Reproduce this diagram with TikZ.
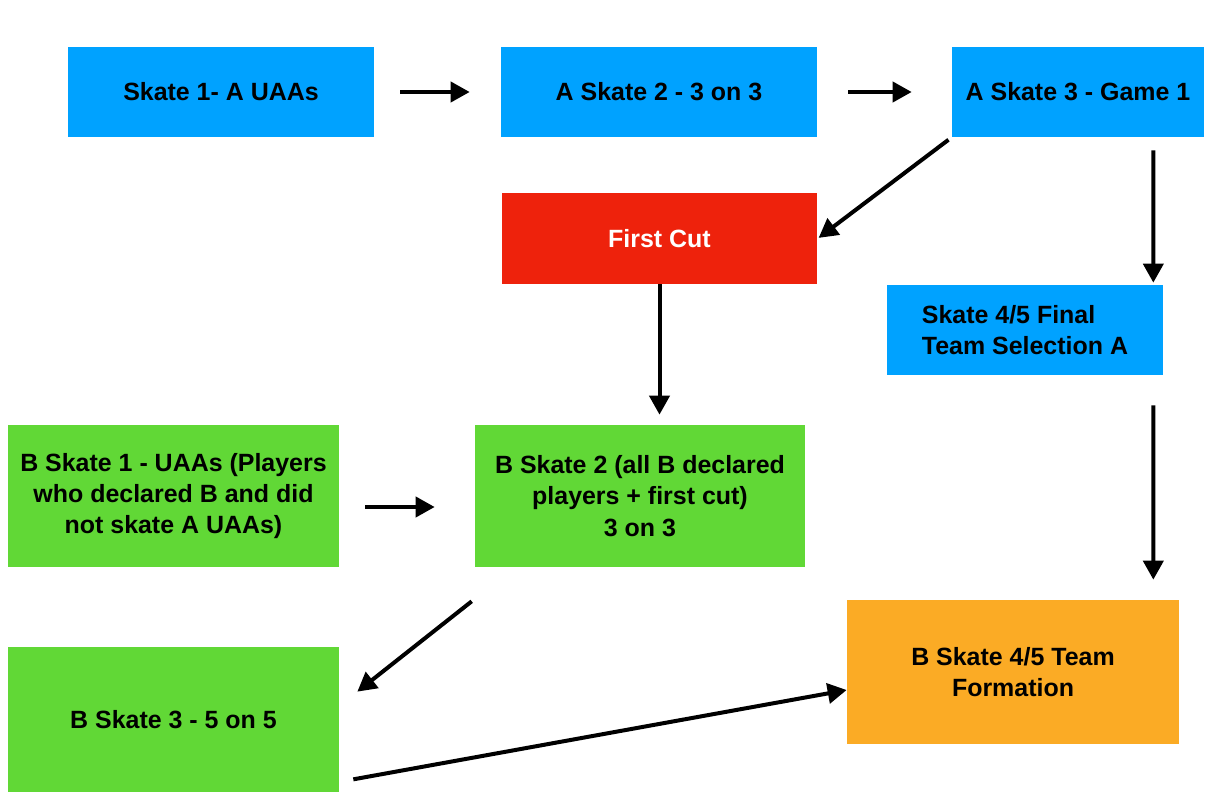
\documentclass[tikz,border=0pt]{standalone}
\usepackage{fontspec}
\setmainfont{Liberation Sans}
\usetikzlibrary{arrows.meta,calc}

\definecolor{skateblue}{HTML}{00A2FF}
\definecolor{cutred}{HTML}{EE220C}
\definecolor{skategreen}{HTML}{61D836}
\definecolor{teamorange}{HTML}{FBAB25}

\tikzset{
    skatebox/.style={rectangle, inner sep=0pt, align=center,
        font=\fontsize{14.2pt}{17.9pt}\selectfont\bfseries},
    arr/.style={-{Triangle[length=0.38cm,width=0.40cm]}, line width=0.08cm}
}

\begin{document}
\begin{tikzpicture}[x=0.02cm,y=-0.02cm]
    \useasboundingbox (0,0) rectangle (1214,811);

    % A stream
    \node[skatebox,fill=skateblue,minimum width=6.12cm,minimum height=1.8cm] (s1a) at (221,92) {Skate 1- A UAAs};
    \node[skatebox,fill=skateblue,minimum width=6.32cm,minimum height=1.8cm] (s2a) at (659,92) {A Skate 2 - 3 on 3};
    \node[skatebox,fill=skateblue,minimum width=5.04cm,minimum height=1.8cm] (s3a) at (1078,92) {A Skate 3 - Game 1};
    \node[skatebox,fill=cutred,text=white,minimum width=6.32cm,minimum height=1.82cm] (cut) at (659.5,238.5) {First Cut};
    \node[skatebox,fill=skateblue,align=left,minimum width=5.52cm,minimum height=1.8cm] (s45a) at (1025,330) {Skate 4/5 Final\\Team Selection A};

    % B stream
    \node[skatebox,fill=skategreen,minimum width=6.62cm,minimum height=2.84cm] (s1b) at (173.5,496) {B Skate 1 - UAAs (Players\\who declared B and did\\not skate A UAAs)};
    \node[skatebox,fill=skategreen,minimum width=6.6cm,minimum height=2.84cm] (s2b) at (640,496) {B Skate 2 (all B declared\\players + first cut)\\3 on 3};
    \node[skatebox,fill=skategreen,minimum width=6.62cm,minimum height=2.9cm] (s3b) at (173.5,719.5) {B Skate 3 - 5 on 5};
    \node[skatebox,fill=teamorange,minimum width=6.64cm,minimum height=2.88cm] (s45b) at (1013,672) {B Skate 4/5 Team\\Formation};

    % arrows
    \draw[arr,shorten <=0.52cm,shorten >=0.62cm] (s1a) -- (s2a);
    \draw[arr,shorten <=0.62cm,shorten >=0.8cm] (s2a) -- (s3a);
    \draw[arr,shorten <=0.08cm,shorten >=0.02cm] (s3a.south west) -- (cut.east);
    \draw[arr] ($(s3a.south east)+(-51,13)$) -- ($(s45a.north east)+(-10,-2)$);
    \draw[arr,shorten >=0.2cm] (cut.south) -- (cut.south |- s2b.north);
    \draw[arr,shorten <=0.52cm,shorten >=0.8cm] ($(s1b.east)+(0,11)$) -- ($(s2b.west)+(0,11)$);
    \draw[arr,shorten <=0.6cm,shorten >=0.4cm] ($(s45a.south east)+(-10,0)$) -- ($(s45b.north east)+(-26,0)$);
    \draw[arr] ($(s2b.south west)+(-3,34)$) -- ($(s3b.north east)+(18,45)$);
    \draw[arr] ($(s3b.south east)+(14,-13)$) -- ($(s45b.west)+(0,18)$);
\end{tikzpicture}
\end{document}
